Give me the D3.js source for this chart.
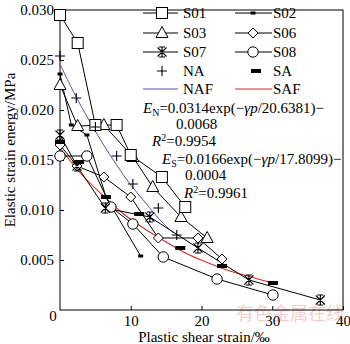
<!DOCTYPE html>
<html><head><meta charset="utf-8">
<script src="https://cdn.jsdelivr.net/npm/d3@7"></script>
<style>body{margin:0;background:#fff}svg{display:block}</style>
</head><body><svg id="c" width="350" height="344"></svg>
<script>
// ---- data ----
const s01X=[0,2.5,5.0,8.0,10.0,14.4,17.7];
const s01Y=[0.0295,0.0267,0.0185,0.0185,0.0155,0.0133,0.0103];
const s02X=[0,1.6,3.8,6.5,11.4];
const s02Y=[0.0236,0.0185,0.0175,0.0113,0.0054];
const s03X=[0,2.5,6.2,10.3,13.1,17.1,20.8];
const s03Y=[0.0225,0.0184,0.0185,0.0153,0.0123,0.0093,0.0072];
const s06X=[0,2.4,6.2,10.0,13.9,19.5,22.9];
const s06Y=[0.0165,0.0144,0.0133,0.0113,0.0072,0.0072,0.0051];
const s07X=[0,2.4,6.4,12.7,19.5,26.7,36.8];
const s07Y=[0.0175,0.0144,0.0102,0.0093,0.0062,0.0030,0.0010];
const s08X=[0,3.8,7.2,10.3,14.6,22.2,30.1];
const s08Y=[0.0154,0.0154,0.0103,0.0086,0.0053,0.0031,0.0015];
const naX=[0,2.3,5.0,8.0,10.3,13.9,16.5];
const naY=[0.0254,0.0212,0.0183,0.0154,0.0126,0.0102,0.0075];
const saX=[0,2.7,6.5,11.2,17.0,22.9,30.1];
const saY=[0.0168,0.0148,0.0113,0.0096,0.0062,0.0044,0.0027];
const nafX=[0,2,4,6,8,10,12,14,16];
const nafY=[0.0246,0.0217,0.0191,0.0167,0.0145,0.0125,0.0108,0.0091,0.0077];
const safX=[0,3,6,9,12,15,18,21,24,27,30];
const safY=[0.0162,0.0136,0.0115,0.0096,0.0081,0.0068,0.0056,0.0047,0.0039,0.0033,0.0027];
const xTicks=[10,20,30,40];
const yTicks=[0.005,0.010,0.015,0.020,0.025,0.030];
const xTitle="Plastic shear strain/\u2030";
const yTitle="Elastic strain energy/MPa";

const FONT='"Liberation Serif","Times New Roman",serif';
const svg=d3.select("#c");
const L=60,R=343,T=10,B=310;
const x=d3.scaleLinear().domain([0,40]).range([L,R]);
const y=d3.scaleLinear().domain([0,0.030]).range([B,T]);
const zip=(a,b)=>a.map((v,i)=>[v,b[i]]);

// watermark
svg.append("text").attr("x",290).attr("y",320).attr("text-anchor","middle")
  .attr("font-family",'"Noto Sans CJK SC",sans-serif').attr("font-size",18)
  .attr("fill","#f5cfcf").text("有色金属在线");

// frame
svg.append("rect").attr("x",L).attr("y",T).attr("width",R-L).attr("height",B-T)
  .attr("fill","none").attr("stroke","#000").attr("stroke-width",1);

// axes (inward ticks)
const xa=d3.axisBottom(x).tickValues(xTicks).tickSize(-4).tickPadding(5).tickFormat(d3.format("d"));
const gx=svg.append("g").attr("transform",`translate(0,${B})`).call(xa);
const ya=d3.axisLeft(y).tickValues(yTicks).tickSize(-4).tickPadding(6).tickFormat(d3.format(".3f"));
const gy=svg.append("g").attr("transform",`translate(${L},0)`).call(ya);
[gx,gy].forEach(g=>{g.select(".domain").remove();
  g.selectAll("line").attr("stroke","#000");
  g.selectAll("text").attr("font-family",FONT).attr("font-size",15).attr("fill","#000");});
svg.append("text").attr("x",53).attr("y",321).attr("text-anchor","middle")
  .attr("font-family",FONT).attr("font-size",15).text("0");

// titles
svg.append("text").attr("x",204).attr("y",342).attr("text-anchor","middle")
  .attr("font-family",FONT).attr("font-size",15).text(xTitle);
svg.append("text").attr("transform","translate(15,150) rotate(-90)").attr("text-anchor","middle")
  .attr("font-family",FONT).attr("font-size",15).text(yTitle);

// fit curves
const line=d3.line().x(d=>x(d[0])).y(d=>y(d[1]));
const sline=d3.line().x(d=>x(d[0])).y(d=>y(d[1])).curve(d3.curveCatmullRom);
svg.append("path").attr("d",sline(zip(nafX,nafY))).attr("fill","none").attr("stroke","#6a4c9c").attr("stroke-width",1);
svg.append("path").attr("d",sline(zip(safX,safY))).attr("fill","none").attr("stroke","#d42a2a").attr("stroke-width",1.1);

// markers
function mark(g,type,cx,cy){
  const s=g.append("g").attr("transform",`translate(${cx},${cy})`);
  const st={fill:"#fff",stroke:"#000","stroke-width":1};
  const ap=(e)=>{Object.entries(st).forEach(([k,v])=>e.attr(k,v));return e;};
  if(type==="sq") ap(s.append("rect").attr("x",-5.5).attr("y",-5.5).attr("width",11).attr("height",11));
  if(type==="tri") ap(s.append("path").attr("d","M0,-6.5L6,4.5L-6,4.5Z"));
  if(type==="dia") ap(s.append("path").attr("d","M0,-5L5,0L0,5L-5,0Z"));
  if(type==="cir") ap(s.append("circle").attr("r",5.2));
  if(type==="x"){s.append("path").attr("d","M-4.5,-4.5L4.5,4.5M4.5,-4.5L-4.5,4.5M0,-5L0,5M-3,-5L3,-5M-3,5L3,5").attr("stroke","#000").attr("stroke-width",1.1);}
  if(type==="dot") s.append("rect").attr("x",-2.5).attr("y",-1.5).attr("width",5).attr("height",3).attr("fill","#000");
  if(type==="plus") s.append("path").attr("d","M-5,0L5,0M0,-5L0,5").attr("stroke","#000").attr("stroke-width",1.1);
  if(type==="bar") s.append("rect").attr("x",-5).attr("y",-2).attr("width",10).attr("height",4).attr("fill","#000");
}
const series=[
  [s02X,s02Y,"dot"],[s03X,s03Y,"tri"],[s01X,s01Y,"sq"],
  [s06X,s06Y,"dia"],[s08X,s08Y,"cir"],[s07X,s07Y,"x"]];
const gp=svg.append("g");
series.forEach(([xs,ys,t])=>{
  gp.append("path").attr("d",line(zip(xs,ys))).attr("fill","none").attr("stroke","#000").attr("stroke-width",1);
});
series.forEach(([xs,ys,t])=>{zip(xs,ys).forEach(p=>mark(gp,t,x(p[0]),y(p[1])));});
zip(naX,naY).forEach(p=>mark(gp,"plus",x(p[0]),y(p[1])));
zip(saX,saY).forEach(p=>mark(gp,"bar",x(p[0]),y(p[1])));

// legend
const lg=svg.append("g");
const leg=[
  ["S01","sq",143,178,162,183,13,"#000"],["S02","dot",235,272,253,273,13,"#000"],
  ["S03","tri",143,178,162,183,33,"#000"],["S06","dia",235,272,253,273,33,"#000"],
  ["S07","x",143,178,162,183,52,"#000"],["S08","cir",235,272,253,273,52,"#000"],
  ["NA","plus",null,null,162,183,71,"#000"],["SA","bar",null,null,256,273,71,"#000"],
  ["NAF",null,143,178,null,183,89,"#6a4c9c"],["SAF",null,235,272,null,273,89,"#d42a2a"]];
leg.forEach(([name,t,x1,x2,mx,tx,yy,col])=>{
  if(x1!==null) lg.append("line").attr("x1",x1).attr("x2",x2).attr("y1",yy).attr("y2",yy).attr("stroke",col).attr("stroke-width",1);
  if(t) mark(lg,t,mx,yy);
  lg.append("text").attr("x",tx).attr("y",yy+5).attr("font-family",FONT).attr("font-size",15).text(name);
});

// equations
const eq=svg.append("g").attr("font-family",FONT).attr("font-size",15);
function eqLine(xx,yy,sym,sub,rest){
  const t=eq.append("text").attr("x",xx).attr("y",yy);
  t.append("tspan").attr("font-style","italic").text(sym);
  t.append("tspan").attr("font-size",10).attr("dy",3).text(sub);
  t.append("tspan").attr("dy",-3).text(rest[0]);
  t.append("tspan").attr("font-style","italic").text("\u03b3p");
  t.append("tspan").text(rest[1]);
}
eqLine(143,113,"E","N",["=0.0314exp(\u2212","/20.6381)\u2212"]);
eq.append("text").attr("x",176).attr("y",129).text("0.0068");
let r1=eq.append("text").attr("x",152).attr("y",146);
r1.append("tspan").attr("font-style","italic").text("R");
r1.append("tspan").attr("font-size",10).attr("dy",-5).text("2");
r1.append("tspan").attr("dy",5).text("=0.9954");
eqLine(162,164,"E","S",["=0.0166exp(\u2212","/17.8099)\u2212"]);
eq.append("text").attr("x",185).attr("y",180).text("0.0004");
let r2=eq.append("text").attr("x",184).attr("y",198);
r2.append("tspan").attr("font-style","italic").text("R");
r2.append("tspan").attr("font-size",10).attr("dy",-5).text("2");
r2.append("tspan").attr("dy",5).text("=0.9961");
</script></body></html>
